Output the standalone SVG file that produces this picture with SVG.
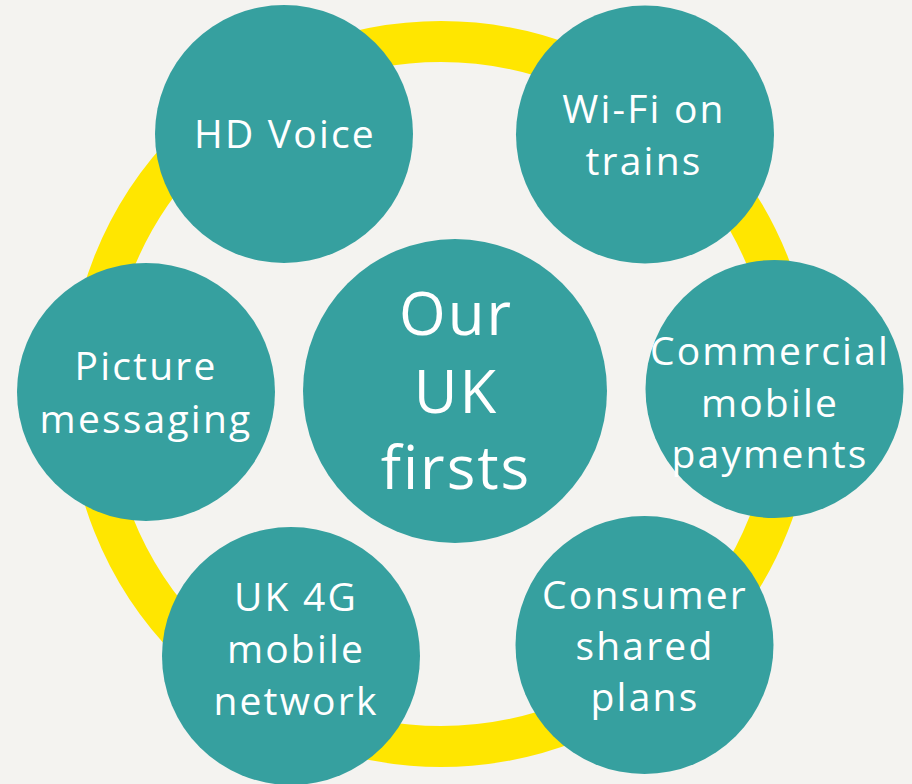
<svg xmlns="http://www.w3.org/2000/svg" width="912" height="784" viewBox="0 0 912 784">
<style>
.node{fill:#36A09F}
.ring{fill:none;stroke:#FFE600;stroke-width:41}
.lbl{font-family:"Open Sans","Noto Sans","DejaVu Sans",sans-serif;font-size:39px;fill:#FFFFFF;text-anchor:middle;letter-spacing:2.2px}
.big{font-size:60px;letter-spacing:2px}
</style>
<rect x="0" y="0" width="912" height="784" fill="#F4F3F0"/>
<g id="connectors">
<circle class="ring" cx="441" cy="394" r="352.5"/>
</g>
<g id="center">
<circle class="node" cx="455" cy="391" r="152"/>
<text class="lbl big"><tspan x="456" y="335">Our</tspan><tspan x="456" y="413">UK</tspan><tspan x="456" y="489">firsts</tspan></text>
</g>
<g id="hd-voice">
<circle class="node" cx="284" cy="134" r="129"/>
<text class="lbl" x="285" y="148">HD Voice</text>
</g>
<g id="wifi-trains">
<circle class="node" cx="645" cy="134.5" r="129"/>
<text class="lbl"><tspan x="644" y="123">Wi-Fi on</tspan><tspan x="644" y="175">trains</tspan></text>
</g>
<g id="commercial-payments">
<circle class="node" cx="774.5" cy="389" r="129"/>
<text class="lbl"><tspan x="770" y="365">Commercial</tspan><tspan x="770" y="417">mobile</tspan><tspan x="770" y="468">payments</tspan></text>
</g>
<g id="consumer-plans">
<circle class="node" cx="644.5" cy="645" r="129"/>
<text class="lbl"><tspan x="645" y="609">Consumer</tspan><tspan x="645" y="660">shared</tspan><tspan x="645" y="711">plans</tspan></text>
</g>
<g id="uk-4g">
<circle class="node" cx="291" cy="656" r="129"/>
<text class="lbl"><tspan x="296" y="611">UK 4G</tspan><tspan x="296" y="663">mobile</tspan><tspan x="296" y="715">network</tspan></text>
</g>
<g id="picture-messaging">
<circle class="node" cx="146" cy="392" r="129"/>
<text class="lbl"><tspan x="146" y="380">Picture</tspan><tspan x="146" y="433">messaging</tspan></text>
</g>
</svg>
